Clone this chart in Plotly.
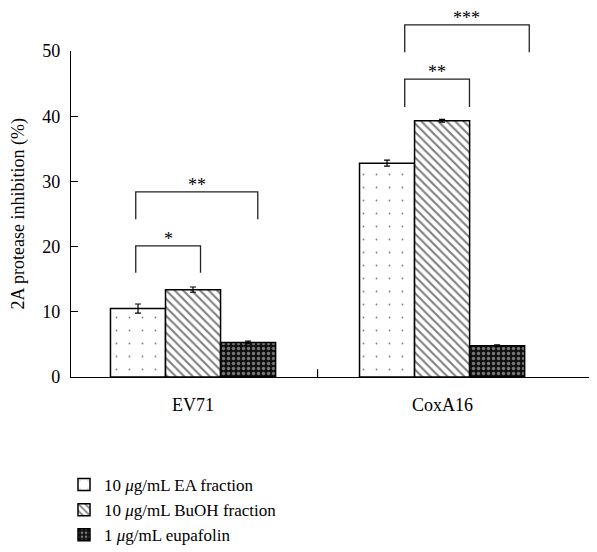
import plotly.graph_objects as go

categories = ["EV71", "CoxA16"]
series_names = ["10 <i>μ</i>g/mL EA fraction", "10 <i>μ</i>g/mL BuOH fraction", "1 <i>μ</i>g/mL eupafolin"]
ea_values = [10.5, 32.8]
ea_err = [0.7, 0.45]
buoh_values = [13.4, 39.3]
buoh_err = [0.4, 0.2]
eupa_values = [5.3, 4.8]
eupa_err = [0.2, 0.15]
y_ticks = [0, 10, 20, 30, 40, 50]
y_title = "2A protease inhibition (%)"

# significance brackets: (x_left, x_right, y_leg_bottom, y_top, label)
brackets = [
    (-0.23, 0.03, 16.0, 20.1, "*"),
    (-0.23, 0.26, 24.2, 28.4, "**"),
    (0.85, 1.11, 41.4, 45.7, "**"),
    (0.85, 1.35, 49.8, 54.0, "***"),
]

FONT = "Liberation Serif"
x_pos = [0, 1]

fig = go.Figure()
fig.add_trace(go.Bar(
    x=x_pos, y=ea_values, name=series_names[0],
    error_y=dict(type="data", array=ea_err, color="black", thickness=1.2, width=3),
    marker=dict(color="white", line=dict(color="black", width=1.5),
                pattern=dict(shape=".", fgcolor="black", bgcolor="white", size=13, solidity=0.015)),
))
fig.add_trace(go.Bar(
    x=x_pos, y=buoh_values, name=series_names[1],
    error_y=dict(type="data", array=buoh_err, color="black", thickness=1.2, width=3),
    marker=dict(color="white", line=dict(color="black", width=1.5),
                pattern=dict(shape="\\", fgcolor="black", bgcolor="white", size=6, solidity=0.35)),
))
fig.add_trace(go.Bar(
    x=x_pos, y=eupa_values, name=series_names[2],
    error_y=dict(type="data", array=eupa_err, color="black", thickness=1.2, width=3),
    marker=dict(color="#111111", line=dict(color="black", width=1.5),
                pattern=dict(shape=".", fgcolor="#dddddd", bgcolor="#111111", size=5, solidity=0.35)),
))

shapes = []
annotations = []
for xl, xr, yb, yt, lab in brackets:
    shapes.append(dict(type="path", xref="x", yref="paper",
                       path=f"M {xl},{yb/50} L {xl},{yt/50} L {xr},{yt/50} L {xr},{yb/50}",
                       line=dict(color="#222222", width=1.3)))
    annotations.append(dict(x=(xl + xr) / 2, y=yt / 50, xref="x", yref="paper", text=lab,
                            showarrow=False, yanchor="bottom", yshift=-5,
                            font=dict(family=FONT, size=18, color="black")))

# group separator tick
shapes.append(dict(type="line", xref="x", yref="y", x0=0.5, x1=0.5, y0=0, y1=1.2,
                   line=dict(color="black", width=1.2)))

for xc, lab in zip(x_pos, categories):
    annotations.append(dict(x=xc, y=0, xref="x", yref="paper", text=lab, showarrow=False,
                            yanchor="top", yshift=-16, font=dict(family=FONT, size=18, color="black")))

annotations.append(dict(x=-0.1, y=0.5, xref="paper", yref="paper", text=y_title, textangle=-90,
                        showarrow=False, xanchor="center", yanchor="middle",
                        font=dict(family=FONT, size=18, color="black")))

fig.update_layout(
    width=597, height=552,
    margin=dict(l=63, r=8, t=43, b=183, autoexpand=False),
    paper_bgcolor="white", plot_bgcolor="white",
    barmode="group", bargap=0.337, bargroupgap=0,
    showlegend=True,
    font=dict(family=FONT, size=17, color="black"),
    xaxis=dict(range=[-0.49, 1.622], showticklabels=False, ticks="", showgrid=False,
               zeroline=False, showline=True, linecolor="black", linewidth=1.2),
    yaxis=dict(range=[0, 50], tickvals=y_ticks, ticks="inside", ticklen=7, tickcolor="black",
               showgrid=False, zeroline=False, showline=True, linecolor="black", linewidth=1.2,
               ticklabelstandoff=6, tickfont=dict(family=FONT, size=18)),
    legend=dict(xref="container", yref="container", x=56 / 597, y=(552 - 459) / 552,
                xanchor="left", yanchor="top", bgcolor="rgba(0,0,0,0)",
                font=dict(family=FONT, size=17), itemwidth=30, tracegroupgap=0),
    shapes=shapes, annotations=annotations,
)

fig.write_html("out.html")
